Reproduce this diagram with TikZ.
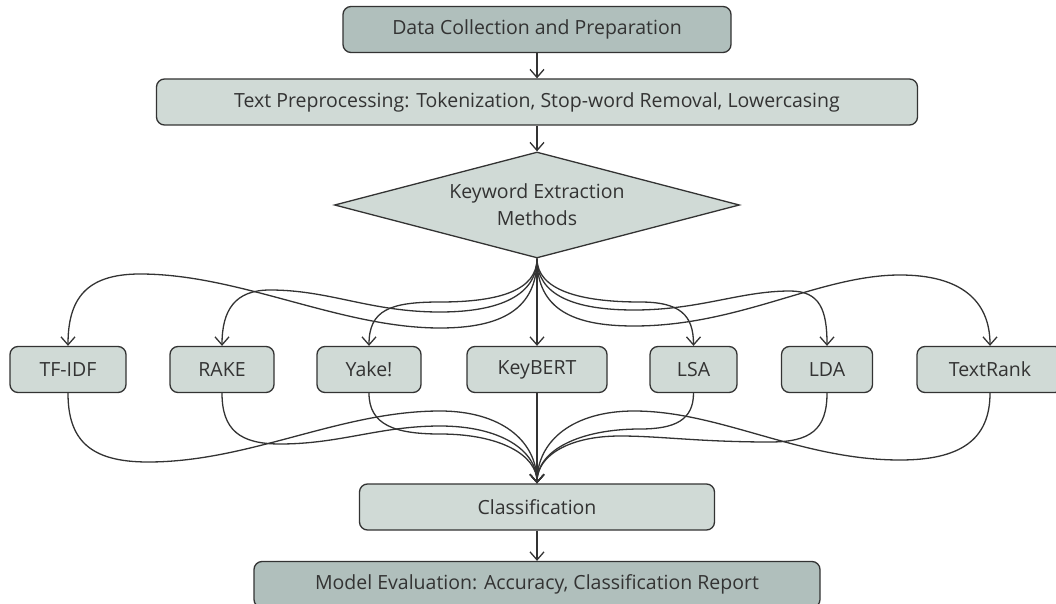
\documentclass[tikz,border=0pt]{standalone}
\usepackage{fontspec}
\setmainfont{Open Sans}
\usepackage{xcolor}
\usepackage{tikz}
\usetikzlibrary{arrows.meta,shapes.geometric}
\definecolor{stagedark}{HTML}{B0BFBC}
\definecolor{stagelight}{HTML}{D0DAD6}
\definecolor{inkgray}{HTML}{333333}

\begin{document}
\begin{tikzpicture}[
  x=1pt,y=-1pt,
  font=\fontsize{19.5}{27}\selectfont,
  box/.style={draw=inkgray,line width=1.3pt,rounded corners=8pt,fill=stagelight,
              text=inkgray,align=center,minimum height=46pt,inner sep=0pt},
  darkbox/.style={box,fill=stagedark},
  decision/.style={diamond,draw=inkgray,line width=1.3pt,fill=stagelight,text=inkgray,
              align=center,aspect=3.8,inner sep=0pt,minimum width=405pt,minimum height=106pt},
  arr/.style={-{Straight Barb[length=8pt,width=14pt]},draw=inkgray,line width=1.3pt}
]
  \useasboundingbox (0,0) rectangle (1056,604);
  \clip (0,0) rectangle (1056,604);

  \node[darkbox,minimum width=388pt] (collect) at (537,29.5) {Data Collection and Preparation};
  \node[box,minimum width=761pt] (prep) at (537,102) {Text Preprocessing: Tokenization, Stop-word Removal, Lowercasing};
  \node[decision] (kem) at (537,205) {Keyword Extraction\\Methods};

  % keyword extraction methods
  \node[box,minimum width=116pt] (tfidf) at (68,369.5) {TF-IDF};
  \node[box,minimum width=104pt] (rake) at (222,369.5) {RAKE};
  \node[box,minimum width=104pt] (yake) at (369,369.5) {Yake!};
  \node[box,minimum width=140pt] (keybert) at (537,369.5) {KeyBERT};
  \node[box,minimum width=87pt] (lsa) at (693.5,369.5) {LSA};
  \node[box,minimum width=91pt] (lda) at (827,369.5) {LDA};
  \node[box,minimum width=146pt] (textrank) at (990,369.5) {TextRank};

  \node[box,minimum width=355pt] (classif) at (537,507) {Classification};
  \node[darkbox,minimum width=566pt] (evalm) at (537,584.5) {Model Evaluation: Accuracy, Classification Report};

  \draw[arr] (collect) -- (prep);
  \draw[arr] (prep) -- (kem);

  % fan out
  \draw[arr] (kem.south) .. controls (537,310) and (500,328) .. (440,328)
    .. controls (340,328) and (240,274) .. (140,274)
    .. controls (85,274) and (68,300) .. (tfidf.north);
  \draw[arr] (kem.south) .. controls (537,295) and (500,312) .. (440,312)
    .. controls (370,312) and (330,290) .. (270,290)
    .. controls (235,290) and (222,310) .. (rake.north);
  \draw[arr] (kem.south) .. controls (537,290) and (500,302) .. (440,302)
    .. controls (390,302) and (369,310) .. (yake.north);
  \draw[arr] (kem.south) -- (keybert.north);
  \draw[arr] (kem.south) .. controls (537,290) and (580,302) .. (640,302)
    .. controls (680,302) and (693.5,315) .. (lsa.north);
  \draw[arr] (kem.south) .. controls (537,295) and (574,310) .. (634,310)
    .. controls (700,310) and (740,291) .. (790,291)
    .. controls (820,291) and (827,310) .. (lda.north);
  \draw[arr] (kem.south) .. controls (537,310) and (574,326) .. (634,326)
    .. controls (740,326) and (820,275) .. (900,275)
    .. controls (960,275) and (990,300) .. (textrank.north);

  % fan in
  \draw[arr] (tfidf.south) .. controls (68,440) and (90,462) .. (148,462)
    .. controls (250,462) and (340,411) .. (440,411)
    .. controls (500,411) and (537,440) .. (classif.north);
  \draw[arr] (rake.south) .. controls (222,430) and (240,444) .. (280,444)
    .. controls (340,444) and (380,426) .. (440,426)
    .. controls (500,426) and (537,450) .. (classif.north);
  \draw[arr] (yake.south) .. controls (369,425) and (395,434) .. (440,434)
    .. controls (500,434) and (537,455) .. (classif.north);
  \draw[arr] (keybert.south) -- (classif.north);
  \draw[arr] (lsa.south) .. controls (693.5,420) and (675,429) .. (640,429)
    .. controls (580,429) and (537,450) .. (classif.north);
  \draw[arr] (lda.south) .. controls (827,430) and (810,442) .. (770,442)
    .. controls (700,442) and (660,436) .. (620,436)
    .. controls (570,436) and (537,455) .. (classif.north);
  \draw[arr] (textrank.south) .. controls (990,440) and (960,460) .. (900,460)
    .. controls (800,460) and (720,411) .. (634,411)
    .. controls (574,411) and (537,440) .. (classif.north);

  \draw[arr] (classif) -- (evalm);
\end{tikzpicture}
\end{document}
